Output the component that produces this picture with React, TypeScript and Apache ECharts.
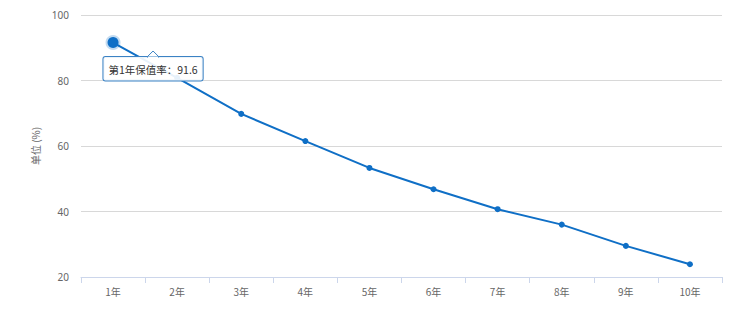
import React, { useEffect, useRef } from "react";
import * as echarts from "echarts";

const categories = ["1年", "2年", "3年", "4年", "5年", "6年", "7年", "8年", "9年", "10年"];
const retentionRates = [91.6, 80.8, 69.8, 61.5, 53.3, 46.8, 40.7, 36.0, 29.5, 23.9];
const yTicks = { min: 20, max: 100, interval: 20 };
const yAxisName = "单位 (%)";

const LINE = "#0f6fc6";

export default function App() {
  const ref = useRef<HTMLDivElement>(null);
  useEffect(() => {
    if (!ref.current) return;
    const chart = echarts.init(ref.current, null, { renderer: "svg" });
    const data = retentionRates.map((v, i) =>
      i === 0
        ? {
            value: v,
            symbolSize: 11,
            itemStyle: { color: LINE, borderColor: "rgba(15,111,198,0.25)", borderWidth: 4 },
            label: {
              show: true,
              position: "bottom",
              distance: 7,
              offset: [40, 0],
              formatter: `第${i + 1}年保值率：${v}`,
              backgroundColor: "rgba(255,255,255,0.9)",
              borderColor: "#3b82c4",
              borderWidth: 1,
              borderRadius: 2,
              padding: [7, 5, 6, 5],
              color: "#333",
              fontSize: 10.5,
              fontFamily: "Noto Sans CJK SC, sans-serif",
            },
          }
        : v
    );
    chart.setOption({
      animation: false,
      grid: { left: 81, right: 28, top: 15, bottom: 38 },
      xAxis: {
        type: "category",
        data: categories,
        boundaryGap: true,
        axisLine: { lineStyle: { color: "#ccd6eb" } },
        axisTick: { show: true, length: 6, lineStyle: { color: "#ccd6eb" } },
        axisLabel: { color: "#666", fontSize: 10, margin: 9, fontFamily: "Noto Sans CJK SC, sans-serif" },
      },
      yAxis: {
        type: "value",
        min: yTicks.min,
        max: yTicks.max,
        interval: yTicks.interval,
        name: yAxisName,
        nameLocation: "middle",
        nameGap: 35,
        nameTextStyle: { color: "#666", fontSize: 10, fontFamily: "Noto Sans CJK SC, sans-serif" },
        axisLine: { show: false },
        axisTick: { show: false },
        axisLabel: { color: "#666", fontSize: 10, margin: 12, fontFamily: "Noto Sans, sans-serif" },
        splitLine: { lineStyle: { color: "#d8d8d8" } },
      },
      series: [
        {
          type: "line",
          data,
          symbol: "circle",
          symbolSize: 6,
          lineStyle: { color: LINE, width: 2 },
          itemStyle: { color: LINE },
          z: 3,
        },
      ],
    });
    const p = chart.convertToPixel({ gridIndex: 0 }, [0, retentionRates[0]]) as number[];
    const ax = p[0] + 40;
    const ay = p[1] + 14.5;
    chart.setOption({
      graphic: [
        {
          type: "polygon",
          z: 100,
          shape: { points: [[ax - 6, ay], [ax, ay - 6], [ax + 6, ay]] },
          style: { fill: "#fff", stroke: "#3b82c4", lineWidth: 1 },
        },
        {
          type: "rect",
          z: 101,
          shape: { x: ax - 5, y: ay, width: 10, height: 1.5 },
          style: { fill: "#fff" },
        },
      ],
    });
    return () => chart.dispose();
  }, []);
  return <div ref={ref} style={{ width: 750, height: 315, position: "absolute", left: 0, top: 0 }} />;
}
